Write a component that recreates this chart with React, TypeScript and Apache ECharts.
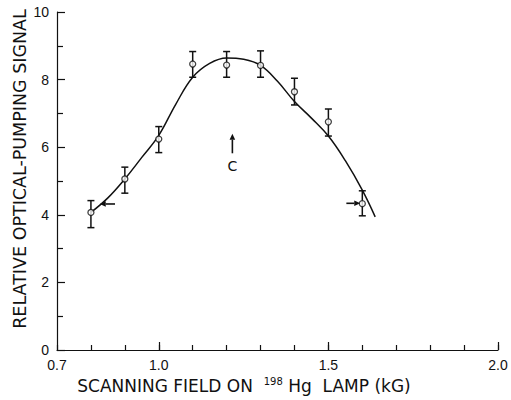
import React, { useEffect, useRef } from "react";
import * as echarts from "echarts";

// Measured points (scanning field, kG) with error bars
const fieldValues = [0.8, 0.9, 1.0, 1.1, 1.2, 1.3, 1.4, 1.5, 1.6];
const signalValues = [4.07, 5.06, 6.24, 8.46, 8.43, 8.42, 7.64, 6.75, 4.33];
const signalHigh = [4.42, 5.41, 6.61, 8.83, 8.83, 8.85, 8.04, 7.13, 4.71];
const signalLow = [3.62, 4.64, 5.84, 8.07, 8.07, 8.07, 7.25, 6.33, 3.97];

// Fitted curve
const curveField = [0.8, 0.85, 0.9, 0.95, 1.0, 1.05, 1.1, 1.15, 1.2, 1.25, 1.3, 1.35, 1.4, 1.45, 1.5, 1.55, 1.6, 1.638];
const curveSignal = [4.07, 4.5, 5.06, 5.7, 6.35, 7.27, 8.07, 8.48, 8.64, 8.6, 8.42, 7.95, 7.35, 6.86, 6.33, 5.6, 4.73, 3.94];

// Annotation arrows: [x from, y from, x to (tip), y to (tip)]
const arrowFrom = [
  [0.871, 4.32, 0.826, 4.32],
  [1.553, 4.34, 1.594, 4.34],
  [1.217, 5.82, 1.217, 6.4],
];
const centerLabel = { text: "C", x: 1.217, y: 5.45 };

// Axis ticks / labels
const xLabelValues = [0.7, 1.0, 1.5, 2.0];
const xTickValues = [0.7, 0.8, 0.9, 1.0, 1.1, 1.2, 1.3, 1.4, 1.5, 1.6, 1.7, 1.8, 1.9, 2.0];
const xMajorTickValues = [1.0, 1.5, 2.0];

const INK = "#111";

export default function App() {
  const ref = useRef<HTMLDivElement>(null);

  useEffect(() => {
    if (!ref.current) return;
    const chart = echarts.init(ref.current, null, { renderer: "svg" });

    const errData = fieldValues.map((x, i) => [x, signalLow[i], signalHigh[i]]);
    const pointData = fieldValues.map((x, i) => [x, signalValues[i]]);
    const curveData = curveField.map((x, i) => [x, curveSignal[i]]);

    const option: any = {
      animation: false,
      backgroundColor: "#fff",
      grid: { left: 57, right: 13, top: 12, bottom: 50 },
      xAxis: [
        {
          type: "value",
          min: 0.7,
          max: 2.0,
          axisLine: { show: true, lineStyle: { color: INK, width: 1.2 } },
          axisTick: {
            show: true,
            inside: true,
            length: 5,
            customValues: xTickValues,
            lineStyle: { color: INK, width: 1.2 },
          },
          axisLabel: {
            show: true,
            customValues: xLabelValues,
            formatter: (v: number) => v.toFixed(1),
            color: INK,
            fontFamily: "Liberation Sans",
            fontSize: 14,
            margin: 8,
          },
          splitLine: { show: false },
        },
        {
          type: "value",
          min: 0.7,
          max: 2.0,
          position: "bottom",
          axisLine: { show: false },
          axisTick: {
            show: true,
            inside: true,
            length: 8,
            customValues: xMajorTickValues,
            lineStyle: { color: INK, width: 1.2 },
          },
          axisLabel: { show: false },
          splitLine: { show: false },
        },
      ],
      yAxis: {
        type: "value",
        min: 0,
        max: 10,
        interval: 2,
        axisLine: { show: true, lineStyle: { color: INK, width: 1.2 } },
        axisTick: { show: true, inside: true, length: 8, lineStyle: { color: INK, width: 1.2 } },
        minorTick: { show: true, splitNumber: 2, length: 6, lineStyle: { color: INK, width: 1.2 } },
        axisLabel: {
          color: INK,
          fontFamily: "Liberation Sans",
          fontSize: 14,
          margin: 8,
        },
        splitLine: { show: false },
      },
      graphic: [
        {
          type: "text",
          x: 20,
          y: 169,
          rotation: Math.PI / 2,
          style: {
            text: "RELATIVE OPTICAL-PUMPING SIGNAL",
            fill: INK,
            font: "17.5px 'DejaVu Sans'",
            textAlign: "center",
            textVerticalAlign: "middle",
          },
        },
        {
          type: "text",
          x: 244,
          y: 386,
          style: {
            text: "{a|SCANNING FIELD ON  }{s|198}{a| Hg  LAMP (kG)}",
            textAlign: "center",
            textVerticalAlign: "middle",
            rich: {
              a: { fontFamily: "DejaVu Sans", fontSize: 17, fill: INK, color: INK },
              s: { fontFamily: "DejaVu Sans", fontSize: 10, fill: INK, color: INK, verticalAlign: "top", padding: [0, 0, 9, 0] },
            },
          },
        },
      ],
      series: [
        {
          type: "line",
          data: curveData,
          smooth: 0.4,
          showSymbol: false,
          symbol: "none",
          lineStyle: { color: INK, width: 1.5 },
          z: 2,
        },
        {
          type: "custom",
          data: errData,
          z: 3,
          renderItem: (params: any, api: any) => {
            const x = api.value(0);
            const lo = api.coord([x, api.value(1)]);
            const hi = api.coord([x, api.value(2)]);
            const w = 3.5;
            const st = { stroke: INK, lineWidth: 1.5 };
            return {
              type: "group",
              children: [
                { type: "line", shape: { x1: lo[0], y1: lo[1], x2: hi[0], y2: hi[1] }, style: st },
                { type: "line", shape: { x1: lo[0] - w, y1: lo[1], x2: lo[0] + w, y2: lo[1] }, style: st },
                { type: "line", shape: { x1: hi[0] - w, y1: hi[1], x2: hi[0] + w, y2: hi[1] }, style: st },
              ],
            };
          },
        },
        {
          type: "scatter",
          data: pointData,
          symbol: "circle",
          symbolSize: 6,
          itemStyle: { color: "#fff", borderColor: INK, borderWidth: 1.3 },
          z: 4,
        },
        {
          type: "custom",
          data: arrowFrom,
          z: 5,
          renderItem: (params: any, api: any) => {
            const p1 = api.coord([api.value(0), api.value(1)]);
            const p2 = api.coord([api.value(2), api.value(3)]);
            const dx = p2[0] - p1[0];
            const dy = p2[1] - p1[1];
            const len = Math.sqrt(dx * dx + dy * dy) || 1;
            const ux = dx / len;
            const uy = dy / len;
            const hl = 6;
            const hw = 2.8;
            const bx = p2[0] - ux * hl;
            const by = p2[1] - uy * hl;
            return {
              type: "group",
              children: [
                { type: "line", shape: { x1: p1[0], y1: p1[1], x2: bx, y2: by }, style: { stroke: INK, lineWidth: 1.6 } },
                {
                  type: "polygon",
                  shape: {
                    points: [
                      [p2[0], p2[1]],
                      [bx - uy * hw, by + ux * hw],
                      [bx + uy * hw, by - ux * hw],
                    ],
                  },
                  style: { fill: INK },
                },
              ],
            };
          },
        },
        {
          type: "custom",
          data: [[centerLabel.x, centerLabel.y]],
          z: 5,
          renderItem: (params: any, api: any) => {
            const p = api.coord([api.value(0), api.value(1)]);
            return {
              type: "text",
              x: p[0],
              y: p[1],
              style: {
                text: centerLabel.text,
                fill: INK,
                font: "14px 'DejaVu Sans'",
                textAlign: "center",
                textVerticalAlign: "middle",
              },
            };
          },
        },
      ],
    };

    chart.setOption(option);
    return () => chart.dispose();
  }, []);

  return (
    <div
      ref={ref}
      style={{ position: "absolute", left: 0, top: 0, width: 511, height: 400 }}
    />
  );
}
